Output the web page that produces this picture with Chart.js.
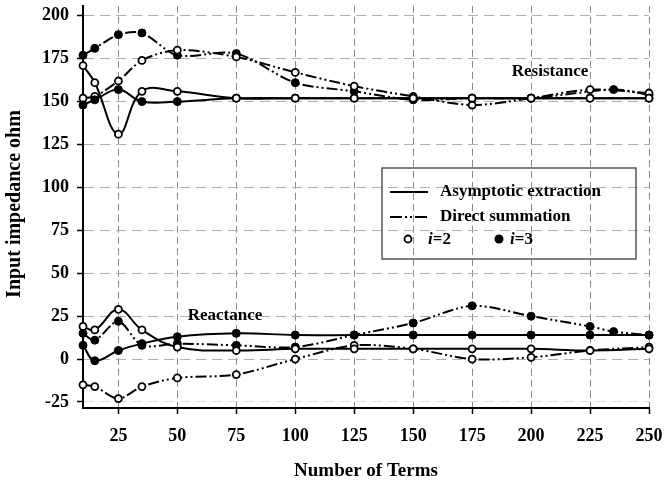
<!DOCTYPE html>
<html><head><meta charset="utf-8">
<script src="https://cdn.jsdelivr.net/npm/chart.js@4/dist/chart.umd.min.js"></script>
<style>html,body{margin:0;padding:0;background:#fff}</style>
</head><body>
<canvas id="c" width="665" height="482"></canvas>
<script>
// ---- data ----
const terms = [10, 15, 25, 35, 50, 75, 100, 125, 150, 175, 200, 225, 235, 250];
const xTicks = [25, 50, 75, 100, 125, 150, 175, 200, 225, 250];
const yTicks = [-25, 0, 25, 50, 75, 100, 125, 150, 175, 200];

// Resistance
const resAsymI2 = [171, 161, 131, 156, 156, 152, 152, 152, 152, 152, 152, 152, null, 152];
const resAsymI3 = [148, 151, 157, 150, 150, 152, 152, 152, 152, 152, 152, 152, null, 152];
const resDirI2  = [152, 153, 162, 174, 180, 176, 167, 159, 153, 148, 152, 157, null, 155];
const resDirI3  = [177, 181, 189, 190, 177, 178, 161, 156, 151, 152, 152, null, 157, 154];
// Reactance
const reaAsymI2 = [19, 17, 29, 17, 7, 5, 6, 6, 6, 6, 6, 5, null, 6];
const reaAsymI3 = [8, -1, 5, 9, 13, 15, 14, 14, 14, 14, 14, 14, null, 14];
const reaDirI2  = [-15, -16, -23, -16, -11, -9, 0, 8, 6, 0, 1, 5, null, 7];
const reaDirI3  = [15, 11, 22, 8, 9, 8, 7, 14, 21, 31, 25, 19, 16, 14];

const legendLabels = ['Asymptotic extraction', 'Direct summation'];

// ---- styling helpers ----
const FONT = '"Liberation Serif", "Times New Roman", serif';
const DASH_DOT = [11, 3, 2, 3, 2, 3];
function pts(arr) {
  return terms.map((x, i) => arr[i] == null ? null : { x: x, y: arr[i] }).filter(Boolean);
}
function ds(arr, direct, filled) {
  return {
    data: pts(arr),
    borderColor: '#000',
    borderWidth: 2,
    borderDash: direct ? DASH_DOT : [],
    tension: direct ? 0.3 : 0.4,
    pointRadius: filled ? 4 : 3.5,
    pointBorderWidth: filled ? 1 : 1.8,
    pointBackgroundColor: filled ? '#000' : '#fff',
    pointBorderColor: '#000',
    clip: 10,
    fill: false
  };
}

const annot = {
  id: 'annot',
  afterDraw(chart) {
    const ctx = chart.ctx;
    ctx.save();
    ctx.fillStyle = '#000';
    ctx.textBaseline = 'middle';
    // axis titles
    ctx.font = 'bold 19px ' + FONT;
    ctx.textAlign = 'center';
    ctx.fillText('Number of Terms', 366, 471);
    ctx.save();
    ctx.translate(15, 204);
    ctx.rotate(-Math.PI / 2);
    ctx.font = 'bold 20px ' + FONT;
    ctx.fillText('Input impedance ohm', 0, 0);
    ctx.restore();
    // annotations
    ctx.font = 'bold 17px ' + FONT;
    ctx.fillText('Resistance', 550, 72);
    ctx.fillText('Reactance', 225, 316);
    // legend box
    ctx.strokeStyle = '#555';
    ctx.lineWidth = 1.5;
    ctx.strokeRect(382, 168, 254, 91);
    ctx.strokeStyle = '#000';
    ctx.lineWidth = 2;
    ctx.beginPath(); ctx.moveTo(390, 192); ctx.lineTo(428, 192); ctx.stroke();
    ctx.setLineDash([12, 3, 2, 3, 2, 3]);
    ctx.beginPath(); ctx.moveTo(390, 217); ctx.lineTo(428, 217); ctx.stroke();
    ctx.setLineDash([]);
    ctx.textAlign = 'left';
    ctx.font = 'bold 17px ' + FONT;
    ctx.fillText(legendLabels[0], 440, 192);
    ctx.fillText(legendLabels[1], 440, 217);
    // markers
    ctx.lineWidth = 1.8;
    ctx.fillStyle = '#fff';
    ctx.beginPath(); ctx.arc(408, 239, 3.5, 0, Math.PI * 2); ctx.fill(); ctx.stroke();
    ctx.fillStyle = '#000';
    ctx.beginPath(); ctx.arc(499, 239, 4.5, 0, Math.PI * 2); ctx.fill();
    ctx.font = 'italic bold 17px ' + FONT;
    ctx.fillText('i', 428, 240);
    ctx.fillText('i', 510, 240);
    const iw = ctx.measureText('i').width;
    ctx.font = 'bold 17px ' + FONT;
    ctx.fillText('=2', 428 + iw, 240);
    ctx.fillText('=3', 510 + iw, 240);
    ctx.restore();
  }
};

const tickFont = { family: FONT, size: 18, weight: 'bold' };
function noPad(s) { s.paddingTop = 0; s.paddingBottom = 0; s.paddingLeft = 0; s.paddingRight = 0; }

new Chart(document.getElementById('c'), {
  type: 'line',
  data: {
    datasets: [
      ds(resAsymI2, false, false), ds(resAsymI3, false, true),
      ds(resDirI2, true, false), ds(resDirI3, true, true),
      ds(reaAsymI2, false, false), ds(reaAsymI3, false, true),
      ds(reaDirI2, true, false), ds(reaDirI3, true, true)
    ]
  },
  options: {
    responsive: false,
    animation: false,
    devicePixelRatio: 1,
    layout: { padding: { top: 5, right: 16, left: 0, bottom: 0 } },
    plugins: { legend: { display: false }, tooltip: { enabled: false } },
    scales: {
      x: {
        type: 'linear', min: 10, max: 250,
        afterBuildTicks: s => { s.ticks = xTicks.map(v => ({ value: v })); },
        afterFit: s => { s.height = 74; noPad(s); },
        ticks: { font: tickFont, color: '#000', padding: 12, maxRotation: 0, autoSkip: false },
        grid: { color: '#8a8a8a', lineWidth: 1, tickLength: 6, tickColor: '#000', tickWidth: 1.5, tickBorderDash: [] },
        border: { color: '#000', width: 2, dash: [7, 4] }
      },
      y: {
        type: 'linear', min: -28.5, max: 205.8,
        afterBuildTicks: s => { s.ticks = yTicks.map(v => ({ value: v })); },
        afterFit: s => { s.width = 83; noPad(s); },
        ticks: { font: tickFont, color: '#000', padding: 8, autoSkip: false },
        grid: { color: c => (c.tick && c.tick.value === -25) ? '#e0e0e0' : '#b0b0b0', lineWidth: 1, tickLength: 6, tickColor: '#000', tickWidth: 1.5, tickBorderDash: [] },
        border: { color: '#000', width: 2, dash: [10, 6] }
      }
    }
  },
  plugins: [annot]
});
</script>
</body></html>
